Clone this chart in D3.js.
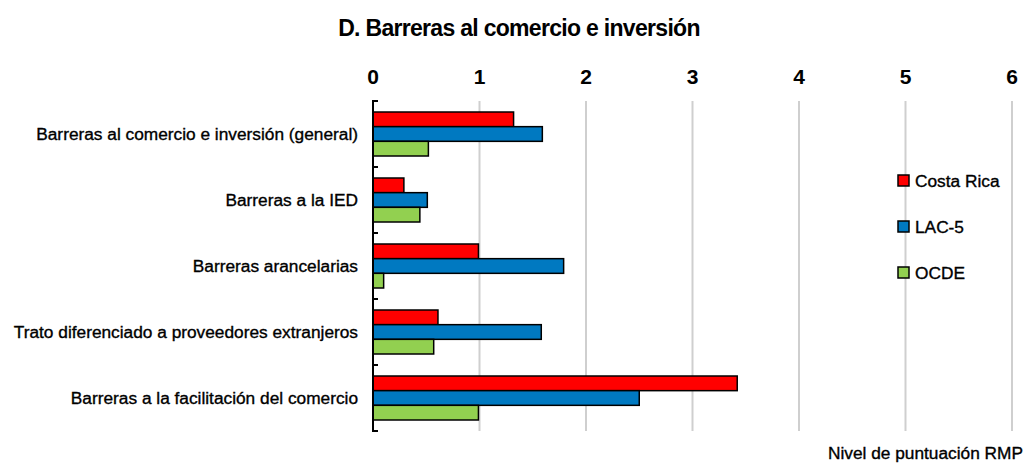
<!DOCTYPE html>
<html>
<head>
<meta charset="utf-8">
<script src="https://d3js.org/d3.v7.min.js"></script>
<style>
    body { margin: 0; background: #fff; }
    svg { font-family: "Liberation Sans", Arial, sans-serif; }
    .cat, .leg, .axis-title { font-size: 17.3px; stroke: #000; stroke-width: 0.35px; }
    .tick-lbl { font-size: 21px; font-weight: bold; }
    .title { font-size: 23px; font-weight: bold; letter-spacing: -0.7px; }
</style>
</head>
<body>
<div id="chart"></div>
<script>
// categories (top to bottom)
const categories = [
    "Barreras al comercio e inversión (general)",
    "Barreras a la IED",
    "Barreras arancelarias",
    "Trato diferenciado a proveedores extranjeros",
    "Barreras a la facilitación del comercio"
];
const seriesNames = ["Costa Rica", "LAC-5", "OCDE"];
const costaRica = [1.32, 0.29, 0.99, 0.61, 3.42];
const lac5 = [1.59, 0.51, 1.79, 1.58, 2.50];
const ocde = [0.52, 0.44, 0.10, 0.57, 0.99];
const xTicks = [0, 1, 2, 3, 4, 5, 6];
const colors = ["#ff0000", "#0079c1", "#92d050"];

const W = 1029, H = 467;
const margin = {top: 101, left: 373, right: 18, bottom: 36};
const innerH = H - margin.top - margin.bottom;

const svg = d3.select("#chart").append("svg")
    .attr("width", W)
    .attr("height", H);

svg.append("text")
    .attr("class", "title")
    .attr("x", 519)
    .attr("y", 36)
    .attr("text-anchor", "middle")
    .text("D. Barreras al comercio e inversión");

const g = svg.append("g")
    .attr("transform", `translate(${margin.left},${margin.top})`);

const x = d3.scaleLinear().domain([0, 6]).range([0, 639]);
const y = d3.scaleBand().domain(categories).range([0, innerH])
    .paddingInner(1/3).paddingOuter(1/6);
const ySub = d3.scaleBand().domain(seriesNames).range([0, y.bandwidth()]);

// gridlines
g.selectAll(".grid")
    .data(xTicks.filter(d => d > 0))
    .enter().append("line")
    .attr("x1", d => x(d)).attr("x2", d => x(d))
    .attr("y1", 0).attr("y2", innerH)
    .attr("stroke", "#cfcfcf")
    .attr("stroke-width", 2);

// tick labels on top
svg.selectAll(".tick-lbl")
    .data(xTicks)
    .enter().append("text")
    .attr("class", "tick-lbl")
    .attr("x", d => margin.left + x(d))
    .attr("y", 84)
    .attr("text-anchor", "middle")
    .text(d => d);

// legend
const legend = svg.append("g").attr("transform", "translate(898,175)");
seriesNames.forEach((s, i) => {
    const lg = legend.append("g").attr("transform", `translate(0,${i * 46})`);
    lg.append("rect")
        .attr("width", 11).attr("height", 11)
        .attr("fill", colors[i])
        .attr("stroke", "#000").attr("stroke-width", 1.5);
    lg.append("text")
        .attr("class", "leg")
        .attr("x", 17).attr("y", 11.5)
        .text(s);
});

// bars
const table = categories.map((c, i) => ({
    cat: c,
    vals: [costaRica[i], lac5[i], ocde[i]]
}));

const groups = g.selectAll(".grp")
    .data(table)
    .enter().append("g")
    .attr("transform", d => `translate(0,${y(d.cat)})`);

groups.selectAll("rect")
    .data(d => d.vals.map((v, i) => ({s: seriesNames[i], v: v, i: i})))
    .enter().append("rect")
    .attr("x", 0)
    .attr("y", d => ySub(d.s))
    .attr("width", d => x(d.v))
    .attr("height", ySub.bandwidth())
    .attr("fill", d => colors[d.i])
    .attr("stroke", "#000")
    .attr("stroke-width", 1.5);

// y axis with inward ticks at category boundaries
const yAxis = g.append("g");
yAxis.append("line")
    .attr("x1", 0).attr("x2", 0)
    .attr("y1", 0).attr("y2", innerH)
    .attr("stroke", "#000").attr("stroke-width", 2);
const bounds = d3.range(categories.length + 1).map(i => i * y.step());
yAxis.selectAll(".yt")
    .data(bounds)
    .enter().append("line")
    .attr("x1", -1).attr("x2", 5)
    .attr("y1", d => d).attr("y2", d => d)
    .attr("stroke", "#000").attr("stroke-width", 2);

// category labels
g.selectAll(".cat")
    .data(categories)
    .enter().append("text")
    .attr("class", "cat")
    .attr("x", -15)
    .attr("y", d => y(d) + y.bandwidth() / 2)
    .attr("dy", "0.35em")
    .attr("text-anchor", "end")
    .text(d => d);

svg.append("text")
    .attr("class", "axis-title")
    .attr("x", 1023)
    .attr("y", 459)
    .attr("text-anchor", "end")
    .text("Nivel de puntuación RMP");
</script>
</body>
</html>
